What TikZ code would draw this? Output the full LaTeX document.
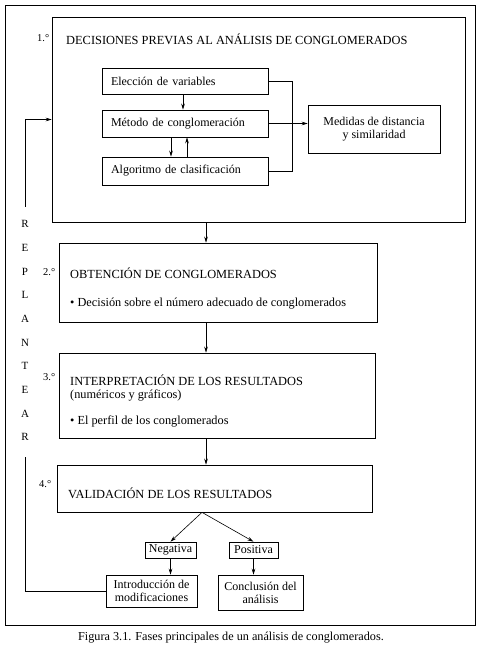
\documentclass[tikz,border=0pt]{standalone}
\usepackage{fontspec}
\setmainfont{Liberation Serif}
\usetikzlibrary{arrows.meta}
\begin{document}
\begin{tikzpicture}[x=1pt,y=-1pt,
  every node/.style={font=\fontsize{12}{13}\selectfont, inner sep=0pt},
  box/.style={draw, line width=0.7pt},
  lbox/.style={box, text width=148pt, align=left, inner xsep=9pt},
  arr/.style={-{Stealth[length=6pt,width=3.6pt]}, line width=0.6pt},
  ln/.style={line width=0.6pt},
  ttl/.style={anchor=base west, font=\fontsize{12.4}{14}\selectfont},
  num/.style={anchor=base west, font=\fontsize{10.5}{12}\selectfont},
  txt/.style={anchor=base west, font=\fontsize{12.3}{13}\selectfont}]
\useasboundingbox (0,0) rectangle (482,652);
\node[box, minimum width=470, minimum height=620] (outer) at (240,315) {};
% box 1
\node[box, minimum width=413, minimum height=205] (b1) at (258.5,119.5) {};
\node[num] (n1) at (37,42) {1.°};
\node[ttl] (t1) at (66,45) {DECISIONES PREVIAS AL ANÁLISIS DE CONGLOMERADOS};
\node[lbox, minimum height=26] (el) at (185,81) {Elección de variables};
\node[lbox, minimum height=27] (met) at (185,123.5) {Método de conglomeración};
\node[lbox, minimum height=28] (alg) at (185,171) {Algoritmo de clasificación};
\node[box, minimum width=132, minimum height=48, align=center] (med) at (374,129) {Medidas de distancia\\y similaridad};
% box 2
\node[box, minimum width=318, minimum height=79] (b2) at (218,282.5) {};
\node[num] (n2) at (43,275) {2.°};
\node[ttl] (t2) at (70,278) {OBTENCIÓN DE CONGLOMERADOS};
\node[txt] (d2) at (70,306) {• Decisión sobre el número adecuado de conglomerados};
% box 3
\node[box, minimum width=316, minimum height=85] (b3) at (217,395.5) {};
\node[num] (n3) at (43,380) {3.°};
\node[ttl] (t3) at (70,385) {INTERPRETACIÓN DE LOS RESULTADOS};
\node[txt] (s3) at (70,398) {(numéricos y gráficos)};
\node[txt] (d3) at (70,424) {• El perfil de los conglomerados};
% box 4
\node[box, minimum width=315, minimum height=47] (b4) at (214.5,488.5) {};
\node[num] (n4) at (39,487) {4.°};
\node[ttl] (t4) at (68,498) {VALIDACIÓN DE LOS RESULTADOS};
% outcomes
\node[box, minimum width=51, minimum height=16] (neg) at (170.5,550) {Negativa};
\node[box, minimum width=49, minimum height=16] (pos) at (253.5,550) {Positiva};
\node[box, minimum width=91, minimum height=32, align=center] (intro) at (151.5,591) {Introducción de\\modificaciones};
\node[box, minimum width=85, minimum height=35, align=center] (concl) at (260.5,592.5) {Conclusión del\\análisis};
% REPLANTEAR
\foreach \l [count=\i from 0] in {R,E,P,L,A,N,T,E,A,R}
  \node[font=\fontsize{11}{12}\selectfont] (r\i) at (25,224+\i*23.7) {\l};
% caption
\node[anchor=base, font=\fontsize{12.2}{13}\selectfont] (cap) at (231,640) {Figura 3.1. Fases principales de un análisis de conglomerados.};
% connectors
\coordinate (c1) at (206,0);
\draw[arr] (b1.south -| c1) -- (b2.north -| c1);
\draw[arr] (b2.south -| c1) -- (b3.north -| c1);
\draw[arr] (b3.south -| c1) -- (b4.north -| c1);
\coordinate (c2) at (202,0);
\draw[arr] (b4.south -| c2) -- (neg.north);
\draw[arr] (b4.south -| c2) -- (pos.north);
\draw[arr] (neg.south) -- (neg.south |- intro.north);
\draw[arr] (pos.south) -- (pos.south |- concl.north);
\coordinate (fbL) at (25,457);
\coordinate (fbU) at (25,207);
\draw[ln] (intro.west) -| (fbL);
\draw[arr] (fbU) |- (b1.west);
\draw[arr] ([xshift=-2pt]el.south) -- ([xshift=-2pt]met.north);
\draw[arr] ([xshift=-14pt]met.south) -- ([xshift=-14pt]alg.north);
\draw[arr] ([xshift=2pt]alg.north) -- ([xshift=2pt]met.south);
\coordinate (br) at (292,0);
\draw[ln] (el.east) -- (el.east -| br) -- (alg.east -| br) -- (alg.east);
\draw[arr] (met.east) -- (met.east -| med.west);
\end{tikzpicture}
\end{document}
